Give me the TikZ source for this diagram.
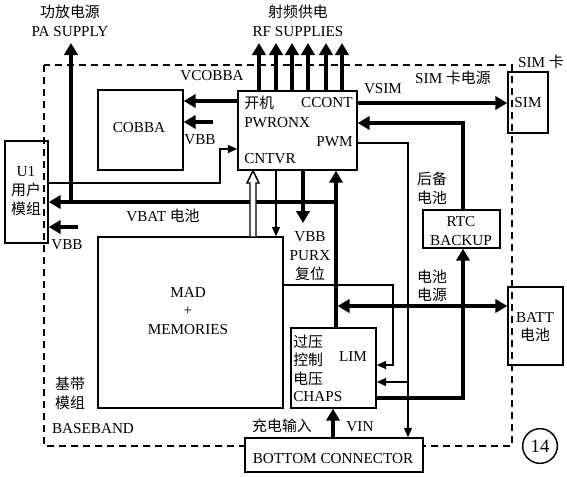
\documentclass[tikz,border=0pt]{standalone}
\usepackage{fontspec}
\setmainfont{Liberation Serif}
\newfontfamily\cjk[Scale=0.98]{Noto Sans CJK SC}
\newcommand\zh[1]{{\cjk #1}}
\usetikzlibrary{arrows.meta,fit,calc}
\begin{document}
\begin{tikzpicture}[x=0.75pt,y=-0.75pt,
  font=\fontsize{11.4pt}{14pt}\selectfont,
  box/.style={draw, line width=1.1pt, inner sep=0pt},
  lbl/.style={inner sep=0pt, align=center},
  TK/.style={line width=3.2pt, -{Triangle[length=9pt,width=10pt]}},
  TKK/.style={line width=3.2pt, {Triangle[length=9pt,width=10pt]}-{Triangle[length=9pt,width=10pt]}},
  TN/.style={line width=1.1pt, -{Triangle[length=7pt,width=6pt]}},
  thinln/.style={line width=1.1pt},
  frame/.style={line width=1pt, dash pattern=on 5.5pt off 3.5pt}]
\useasboundingbox (0,0) rectangle (567,476);

% baseband frame
\draw[frame] (44,65) rectangle (512,446);

% boxes
\node[box, fit={(5,141) (48,243)}] (u1) {};
\node[box, fit={(98,90) (183,170)}] (cobba) {};
\node[box, fit={(238,91) (357,170)}] (ccont) {};
\node[box, fit={(98,237) (283,408)}] (mad) {};
\node[box, fit={(291,328) (376,408)}] (lim) {};
\node[box, fit={(423,210) (500,248)}] (rtc) {};
\node[box, fit={(508,72) (548,133)}] (sim) {};
\node[box, fit={(508,287) (563,365)}] (batt) {};
\node[box, fill=white, fit={(245,438) (423,472)}] (bot) {};
\node[draw, circle, line width=1.1pt, minimum size=26pt, inner sep=0pt,
      font=\fontsize{14pt}{16pt}\selectfont] (c14) at (540,446) {14};

% box texts
\node[lbl] (u1t) at (26,191) {U1\\\zh{用户}\\\zh{模组}};
\node[lbl] (cobbat) at (139,128) {COBBA};
\node[lbl] (madt) at (188,311) {MAD\\+\\MEMORIES};
\node[lbl] (rtct) at (461,231) {RTC\\BACKUP};
\node[lbl] (simt) at (528,103) {SIM};
\node[lbl] (battt) at (535,327) {BATT\\\zh{电池}};
\node[lbl] (bott) at (333,459) {BOTTOM CONNECTOR};
\node[lbl, anchor=west] (c1) at (244,103) {\zh{开机}};
\node[lbl, anchor=east] (c2) at (353,103) {CCONT};
\node[lbl, anchor=west] (c3) at (244,123) {PWRONX};
\node[lbl, anchor=east] (c4) at (353,142) {PWM};
\node[lbl, anchor=west] (c5) at (244,159) {CNTVR};
\node[lbl, anchor=west] (l1) at (293,342) {\zh{过压}};
\node[lbl, anchor=west] (l2) at (293,360) {\zh{控制}};
\node[lbl, anchor=west] (l3) at (293,379) {\zh{电压}};
\node[lbl, anchor=west] (l4) at (293,397) {CHAPS};
\node[lbl] (l5) at (353,357) {LIM};

% free labels
\node[lbl] (pal) at (70,21) {\zh{功放电源}\\PA SUPPLY};
\node[lbl] (rfl) at (298,21) {\zh{射频供电}\\RF SUPPLIES};
\node[lbl] (vcobba) at (212,76) {VCOBBA};
\node[lbl] (vbb1) at (200,140) {VBB};
\node[lbl] (vbat) at (163,216) {VBAT \zh{电池}};
\node[lbl] (vbb2) at (67,245) {VBB};
\node[lbl] (vsim) at (383,89) {VSIM};
\node[lbl] (simp) at (453,78) {SIM \zh{卡电源}};
\node[lbl] (simk) at (541,62) {SIM \zh{卡}};
\node[lbl] (hb) at (432,188) {\zh{后备}\\\zh{电池}};
\node[lbl] (purx) at (310,256) {VBB\\PURX\\\zh{复位}};
\node[lbl] (dcdy) at (432,286) {\zh{电池}\\\zh{电源}};
\node[lbl] (cdsr) at (282,426) {\zh{充电输入}};
\node[lbl] (vin) at (360,427) {VIN};
\node[lbl] (jd) at (70,393) {\zh{基带}\\\zh{模组}};
\node[lbl] (bb) at (93,429) {BASEBAND};

% free ends
\coordinate (patop) at (71,43);
\coordinate (pabot) at (71,202);
\coordinate (vbbc) at (213,122);
\coordinate (vbbu) at (78,227);
\coordinate (purxtip) at (303,223);

% PA supply
\draw[TK] (pabot) -- (patop);
% RF supplies
\foreach \x in {259,276,292,308,326,342}
  \draw[TK] (ccont.north -| \x,0) -- (\x,43);
% CCONT -> COBBA
\draw[TK] (ccont.west |- 0,101) -- (cobba.east |- 0,101);
\draw[TK] (vbbc) -- (cobba.east |- vbbc);
% U1 -> CNTVR
\draw[TN] (u1.east |- 0,183) -| (220,149) -- (ccont.west |- 0,149);
% VBAT
\draw[TK] (lim.north -| 336,0) -- (ccont.south -| 336,0);
\draw[TK] (337.6,202) -- (u1.east |- 0,202);
\draw[TK] (vbbu) -- (u1.east |- vbbu);
% hollow arrow MAD -> CCONT
\draw[thinln, fill=white, line join=miter]
  (mad.north -| 250,0) -- (250,183) -- (247,183) -- (ccont.south -| 253,0)
  -- (259,183) -- (256,183) -- (mad.north -| 256,0);
% CCONT -> MAD
\draw[TN] (ccont.south -| 276,0) -- (mad.north -| 276,0);
\draw[TK] (ccont.south -| purxtip) -- (purxtip);
% MAD -> LIM
\draw[TN] (mad.east |- 0,285) -| (393,365) -- (lim.east |- 0,365);
% PWM -> bottom connector, branch to LIM
\draw[TN] (ccont.east |- 0,143) -| (bot.north -| 408,0);
\draw[TN] (408,382) -- (lim.east |- 0,382);
% LIM -> RTC
\draw[TK] (lim.east |- 0,398) -| (rtc.south -| 463,0);
% RTC -> CCONT
\draw[TK] (rtc.north -| 463,0) |- (ccont.east |- 0,123);
% VSIM
\draw[TK] (ccont.east |- 0,103) -- (sim.west |- 0,103);
% battery supply
\draw[TKK] (337.6,306) -- (batt.west |- 0,306);
% VIN
\draw[TK] (bot.north -| 333,0) -- (lim.south -| 333,0);
\end{tikzpicture}
\end{document}
